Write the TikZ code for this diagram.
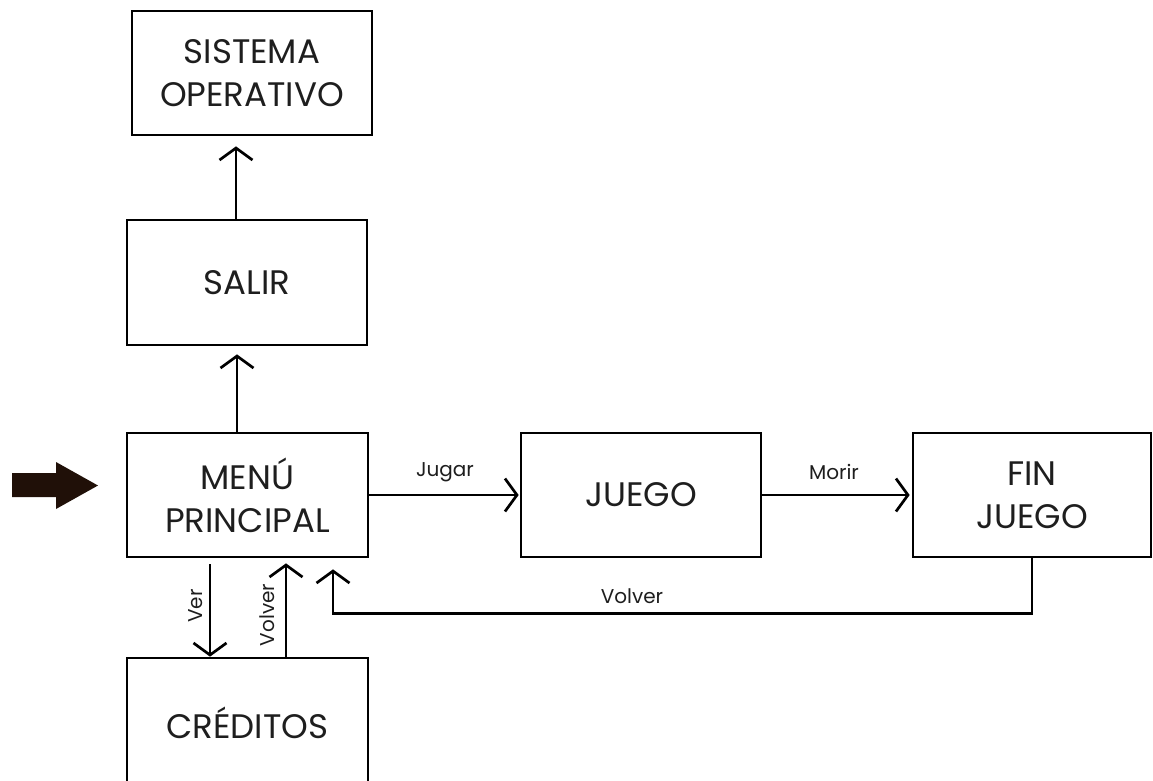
\documentclass[tikz,border=0pt]{standalone}
\usepackage{fontspec}
\setmainfont{Poppins}
\usetikzlibrary{arrows.meta,calc}
\definecolor{txt}{HTML}{1E1E1E}
\definecolor{bigarrow}{HTML}{201008}
\begin{document}
\begin{tikzpicture}[x=1pt,y=-1pt,
  box/.style={draw=black,line width=2.7pt,minimum width=240pt,minimum height=124pt,inner sep=0pt,align=center,text=txt,font=\fontsize{34}{43}\selectfont},
  arr/.style={line width=2.7pt,-{Straight Barb[length=12pt,width=33pt,line width=2.7pt]}},
  lbl/.style={text=txt,font=\fontsize{20}{22}\selectfont,inner sep=0pt}]
\useasboundingbox (0,0) rectangle (1153,780);
\clip (0,0) rectangle (1153,780);
\node[box] (so) at (252,73) {SISTEMA\\OPERATIVO};
\node[box,minimum height=125pt] (salir) at (247,282.5) {SALIR};
\node[box,minimum width=241pt] (menu) at (247.5,495) {MENÚ\\PRINCIPAL};
\node[box,minimum width=241pt,minimum height=130pt] (cred) at (247.5,723) {CRÉDITOS};
\node[box] (juego) at (641,495) {JUEGO};
\node[box,minimum width=238pt] (fin) at (1032,495) {FIN\\JUEGO};
% entry arrow
\fill[bigarrow] (12,473) -- (56,473) -- (56,462) -- (98,485.5) -- (56,509) -- (56,497) -- (12,497) -- cycle;
% vertical arrows
\draw[arr,shorten >=10pt] ([xshift=-11pt]salir.north) coordinate (a1) -- (a1 |- so.south);
\draw[arr,shorten >=8pt] ([xshift=-10.5pt]menu.north) coordinate (a2) -- (a2 |- salir.south);
\draw[arr,shorten <=6pt] ([xshift=-37.5pt]menu.south) coordinate (a3) -- (a3 |- cred.north);
\draw[arr,shorten >=5pt] ([xshift=38.5pt]cred.north) coordinate (a4) -- (a4 |- menu.south);
% horizontal arrows
\draw[arr,shorten >=1pt] (menu.east) -- (juego.west);
\draw[arr,shorten >=2pt] (juego.east) -- (fin.west);
% return
\coordinate (r1) at ($(fin.south)+(0,55)$);
\coordinate (r2) at ($(menu.south)+(85.5,55)$);
\draw[arr,shorten >=11pt] (fin.south) -- (r1) -- (r2) -- (r2 |- menu.south);
% labels
\node[lbl] (ljugar) at (445,472) {Jugar};
\node[lbl] (lmorir) at (834,472) {Morir};
\node[lbl] (lvolver) at (632,596) {Volver};
\node[lbl,rotate=90] (lver) at (196,606) {Ver};
\node[lbl,rotate=90] (lvolver2) at (267,615) {Volver};
\end{tikzpicture}
\end{document}
